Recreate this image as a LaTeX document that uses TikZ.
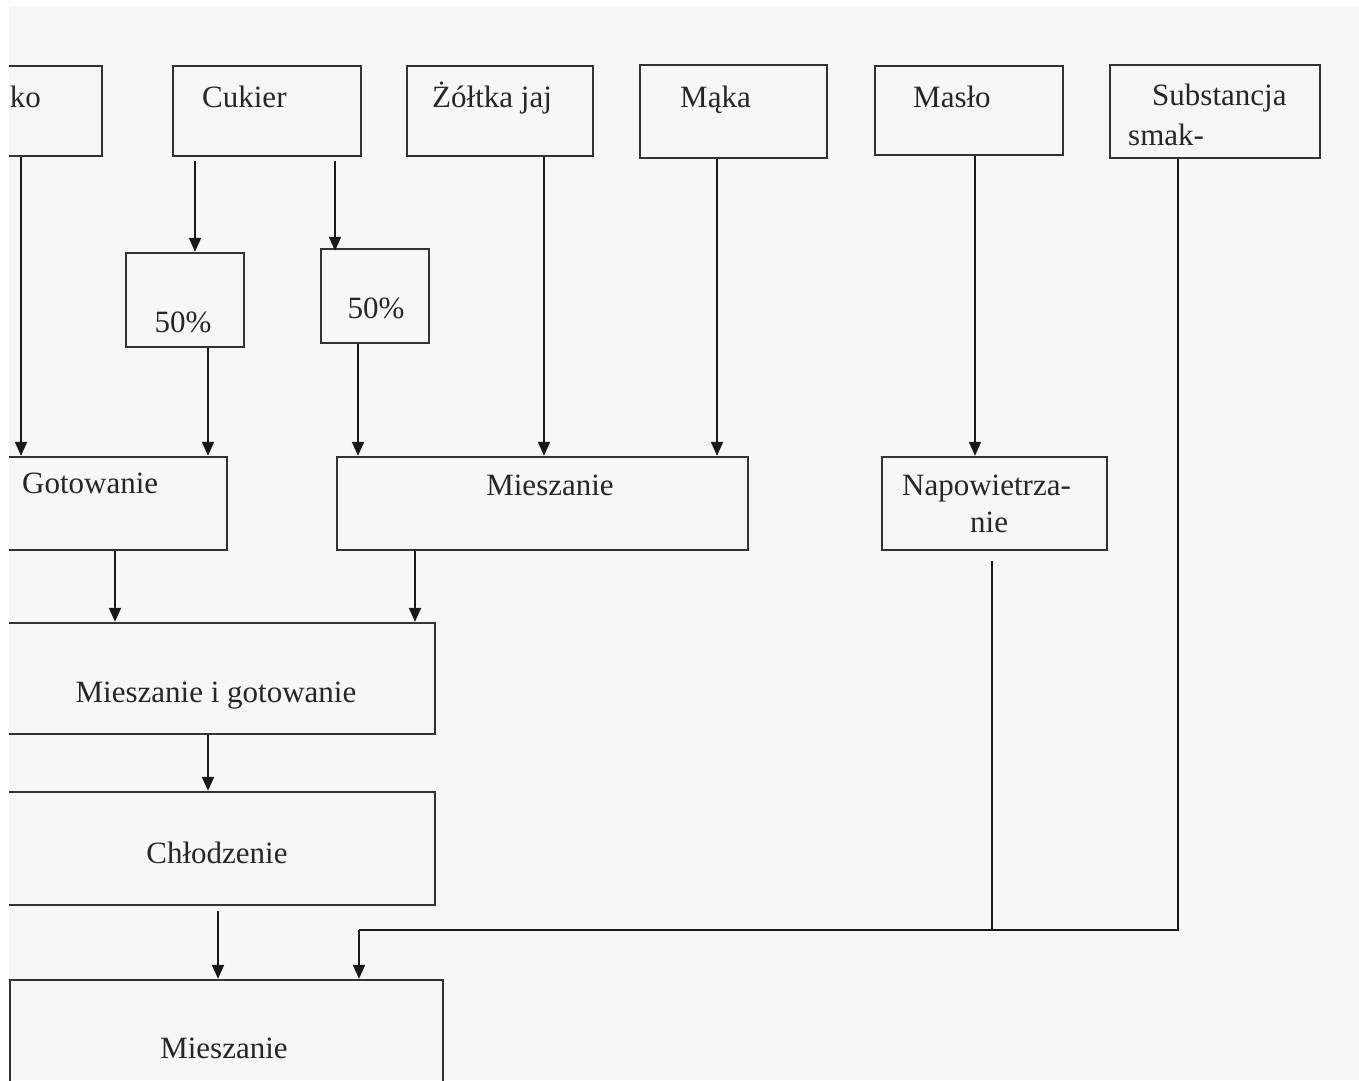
\documentclass[tikz,border=0pt]{standalone}
\usepackage{fontspec}
\setmainfont{LiberationSerif}[Extension=.ttf,UprightFont=*-Regular]
\newfontfamily\flowfont{LiberationSerif}[Extension=.ttf,UprightFont=*-Regular]
\usetikzlibrary{arrows.meta,fit}
\begin{document}
\begin{tikzpicture}[x=1pt,y=-1pt,
  box/.style={draw=black!80,line width=2.4pt,inner sep=0pt},
  lbl/.style={inner sep=0pt,text=black!85,font=\flowfont\fontsize{31}{36}\selectfont},
  arr/.style={draw=black!90,line width=2pt,-{Triangle[width=12pt,length=14pt]}},
  link/.style={draw=black!90,line width=2pt}]
\useasboundingbox (0,0) rectangle (1359,1080);
\fill[white] (0,0) rectangle (1359,1080);
\fill[black!3] (9,6) rectangle (1359,1080);
\begin{scope}
\clip (9,0) rectangle (1359,1080);
% raw materials
\node[box,fit={(-100,66) (102,156)}] (mleko) {};
\node[box,fit={(173,66) (361,156)}] (cukier) {};
\node[box,fit={(407,66) (593,156)}] (zoltka) {};
\node[box,fit={(640,65) (827,158)}] (maka) {};
\node[box,fit={(875,66) (1063,155)}] (maslo) {};
\node[box,fit={(1110,65) (1320,158)}] (subst) {};
% sugar split
\node[box,fit={(126,253) (244,347)}] (half1) {};
\node[box,fit={(321,249) (429,343)}] (half2) {};
% process steps
\node[box,fit={(-100,457) (227,550)}] (gotow) {};
\node[box,fit={(337,457) (748,550)}] (miesz1) {};
\node[box,fit={(882,457) (1107,550)}] (napow) {};
\node[box,fit={(-100,623) (435,734)}] (mig) {};
\node[box,fit={(-100,792) (435,905)}] (chlod) {};
\node[box,fit={(10,980) (443,1200)}] (miesz2) {};
% labels
\node[lbl,anchor=base east] (tmleko) at (41,107) {ko};
\node[lbl,anchor=base west] (tcukier) at (202,107) {Cukier};
\node[lbl,anchor=base west] (tzoltka) at (432,107) {Żółtka jaj};
\node[lbl,anchor=base west] (tmaka) at (680,107) {Mąka};
\node[lbl,anchor=base west] (tmaslo) at (913,107) {Masło};
\node[lbl,anchor=base west] (tsubst1) at (1152,105) {Substancja};
\node[lbl,anchor=base west] (tsubst2) at (1128,145) {smak-};
\node[lbl,anchor=base] (thalf1) at (183,332) {50\%};
\node[lbl,anchor=base] (thalf2) at (376,318) {50\%};
\node[lbl,anchor=base west] (tgotow) at (22,493) {Gotowanie};
\node[lbl,anchor=base] (tmiesz1) at (550,495) {Mieszanie};
\node[lbl,anchor=base west] (tnapow1) at (902,495) {Napowietrza-};
\node[lbl,anchor=base west] (tnapow2) at (970,532) {nie};
\node[lbl,anchor=base] (tmig) at (216,702) {Mieszanie i gotowanie};
\node[lbl,anchor=base] (tchlod) at (217,863) {Chłodzenie};
\node[lbl,anchor=base] (tmiesz2) at (224,1058) {Mieszanie};
% connectors
\coordinate (join) at (359,930);
\draw[arr] (mleko.south -| 21,0) -- (gotow.north -| 21,0);
\draw[arr] ([yshift=-4pt]cukier.south -| 195,0) -- (half1.north -| 195,0);
\draw[arr] ([yshift=-4pt]cukier.south -| 335,0) -- ([yshift=-3pt]half2.north -| 335,0);
\draw[arr] (half1.south -| 208,0) -- (gotow.north -| 208,0);
\draw[arr] (half2.south -| 358,0) -- (miesz1.north -| 358,0);
\draw[arr] (zoltka.south -| 544,0) -- (miesz1.north -| 544,0);
\draw[arr] (maka.south -| 717,0) -- (miesz1.north -| 717,0);
\draw[arr] (maslo.south -| 975,0) -- (napow.north -| 975,0);
\draw[arr] (gotow.south -| 115,0) -- (mig.north -| 115,0);
\draw[arr] (miesz1.south -| 415,0) -- (mig.north -| 415,0);
\draw[arr] (mig.south -| 208,0) -- (chlod.north -| 208,0);
\draw[arr] ([yshift=-5pt]chlod.south -| 218,0) -- (miesz2.north -| 218,0);
\draw[link] ([yshift=-10pt]napow.south -| 992,0) -- (join -| 992,0);
\draw[link] (subst.south -| 1178,0) |- (join);
\draw[arr] (join) -- (miesz2.north -| join);
\end{scope}
\end{tikzpicture}
\end{document}
